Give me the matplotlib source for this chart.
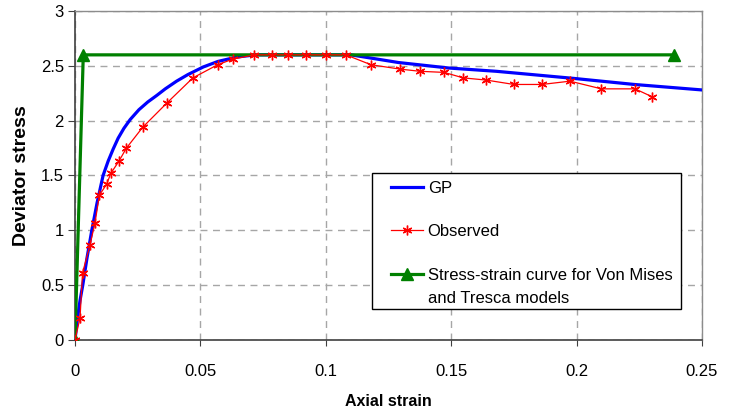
import matplotlib
matplotlib.use("Agg")
import matplotlib.pyplot as plt
from matplotlib.patches import Rectangle
from matplotlib.transforms import IdentityTransform

plt.rcParams['font.family'] = ['Liberation Sans', 'DejaVu Sans']

# GP prediction (smooth curve)
gp_x = [0, 0.001, 0.002, 0.0031, 0.0048, 0.0067, 0.0088, 0.0112, 0.0132, 0.0152,
        0.0172, 0.0195, 0.022, 0.0255, 0.029, 0.0326, 0.036, 0.0405, 0.045, 0.0512,
        0.057, 0.0645, 0.072, 0.11, 0.129, 0.149, 0.168, 0.199, 0.223, 0.25]
gp_y = [0, 0.2, 0.36, 0.5, 0.75, 1.0, 1.25, 1.5, 1.63, 1.74,
        1.84, 1.93, 2.01, 2.1, 2.17, 2.23, 2.29, 2.36, 2.42, 2.49,
        2.54, 2.58, 2.6, 2.6, 2.53, 2.48, 2.45, 2.385, 2.33, 2.28]

# measured test data
obs_x = [0, 0.002, 0.003, 0.006, 0.008, 0.0097, 0.0126, 0.0143, 0.0175, 0.0205,
         0.027, 0.0366, 0.047, 0.0569, 0.0628, 0.0714, 0.0784, 0.085, 0.0922, 0.0999,
         0.108, 0.118, 0.1296, 0.1376, 0.1472, 0.1548, 0.164, 0.175, 0.1861, 0.1974,
         0.2099, 0.2233, 0.2299]
obs_y = [0, 0.2, 0.61, 0.87, 1.07, 1.32, 1.42, 1.52, 1.63, 1.75,
         1.94, 2.16, 2.39, 2.51, 2.56, 2.6, 2.6, 2.6, 2.6, 2.6,
         2.6, 2.51, 2.47, 2.45, 2.44, 2.39, 2.37, 2.33, 2.33, 2.36,
         2.29, 2.29, 2.22]

# elastic-perfectly plastic curve (Von Mises / Tresca)
vm_x = [0, 0.0033, 0.2387]
vm_y = [0, 2.6, 2.6]

x_ticks = [0, 0.05, 0.1, 0.15, 0.2, 0.25]
x_labels = ['0', '0.05', '0.1', '0.15', '0.2', '0.25']
y_ticks = [0, 0.5, 1, 1.5, 2, 2.5, 3]
y_labels = ['0', '0.5', '1', '1.5', '2', '2.5', '3']

fig = plt.figure(figsize=(7.36, 4.16), dpi=100)
ax = fig.add_axes([0.1019, 0.1827, 0.8519, 0.7909])

ax.plot(gp_x, gp_y, color='#0000ff', lw=2.3, label='GP', zorder=3)
ax.plot(vm_x, vm_y, color='#008000', lw=2.3, marker='^', ms=8,
        label='Stress-strain curve for Von Mises', zorder=3.5)
ax.plot(obs_x, obs_y, color='#ff0000', lw=0.9, marker=(6, 2, 0), ms=7, mew=1.0,
        label='Observed', zorder=4)

ax.set_xlim(0, 0.25)
ax.set_ylim(0, 3)
ax.set_xticks(x_ticks)
ax.set_xticklabels(x_labels)
ax.set_yticks(y_ticks)
ax.set_yticklabels(y_labels)
ax.tick_params(axis='x', direction='out', length=4, pad=13, labelsize=12, color='#404040')
ax.tick_params(axis='y', direction='out', length=5, pad=3, labelsize=12, color='#404040')

ax.grid(True, color='#a6a6a6', lw=1, ls=(0, (5, 4)), zorder=0)
ax.set_axisbelow(True)

for s in ('left', 'bottom'):
    ax.spines[s].set_color('#404040')
    ax.spines[s].set_linewidth(1.2)
for s in ('top', 'right'):
    ax.spines[s].set_color('#8c8c8c')
    ax.spines[s].set_linewidth(1.0)

ax.set_xlabel('Axial strain', fontsize=11.5, fontweight='bold')
ax.xaxis.set_label_coords(0.5, -0.165)
ax.set_ylabel('Deviator stress', fontsize=14, fontweight='bold')
ax.yaxis.set_label_coords(-0.072, 0.5)

# legend box drawn separately so padding can be set freely
ax.add_patch(Rectangle((0.4737, 0.0942), 0.4928, 0.4134, transform=ax.transAxes,
                       facecolor='white', edgecolor='black', lw=1, zorder=4.5))
handles, labels = ax.get_legend_handles_labels()
order = [0, 2, 1]
leg = ax.legend([handles[i] for i in order], [labels[i] for i in order],
                loc='upper left', bbox_to_anchor=(0.504, 0.4833),
                frameon=False, borderpad=0, borderaxespad=0,
                fontsize=12, labelspacing=1.7, handlelength=1.9,
                handletextpad=0.3)
leg.set_zorder(5)

# second line of the last legend label, kept under the first line
fig.canvas.draw()
bb = leg.get_texts()[2].get_window_extent()
fig.text(bb.x0, bb.y0 - 23, 'and Tresca models', fontsize=12,
         ha='left', va='bottom', transform=IdentityTransform(), zorder=6)

fig.savefig('out.png', dpi=100)
